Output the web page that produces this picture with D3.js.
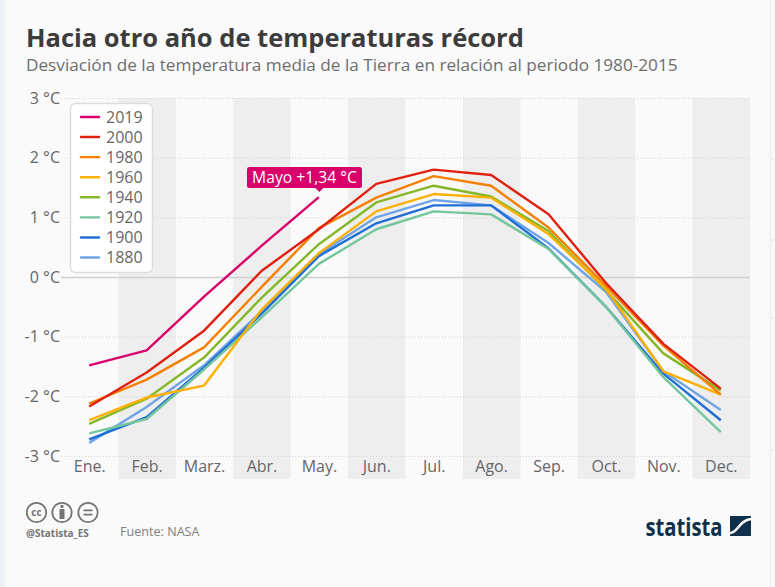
<!DOCTYPE html>
<html>
<head>
<meta charset="utf-8">
<script src="https://cdn.jsdelivr.net/npm/d3@7"></script>
<style>
html, body { margin: 0; padding: 0; background: #fafafa; overflow: hidden; }
text { font-family: "Open Sans", sans-serif; }
</style>
</head>
<body>
<script>
var width = 775, height = 587;

var months = ["Ene.", "Feb.", "Marz.", "Abr.", "May.", "Jun.", "Jul.", "Ago.", "Sep.", "Oct.", "Nov.", "Dec."];
var yTicks = [-3, -2, -1, 0, 1, 2, 3];

var years = ["2019", "2000", "1980", "1960", "1940", "1920", "1900", "1880"];
var colors = ["#d9006c", "#e02010", "#f58000", "#fdb000", "#84b829", "#74c69d", "#1f6fd6", "#6fa4e6"];

var v2019 = [-1.48, -1.23, -0.33, 0.52, 1.34];
var v2000 = [-2.17, -1.6, -0.9, 0.1, 0.8, 1.56, 1.8, 1.71, 1.05, -0.1, -1.12, -1.87];
var v1980 = [-2.12, -1.72, -1.18, -0.17, 0.82, 1.33, 1.69, 1.53, 0.83, -0.15, -1.15, -1.97];
var v1960 = [-2.4, -2.02, -1.82, -0.55, 0.4, 1.1, 1.39, 1.33, 0.72, -0.2, -1.58, -1.97];
var v1940 = [-2.46, -2.04, -1.35, -0.35, 0.55, 1.25, 1.53, 1.35, 0.77, -0.22, -1.28, -1.9];
var v1920 = [-2.62, -2.38, -1.55, -0.68, 0.22, 0.8, 1.1, 1.05, 0.47, -0.5, -1.68, -2.6];
var v1900 = [-2.72, -2.35, -1.52, -0.62, 0.35, 0.9, 1.2, 1.2, 0.48, -0.5, -1.62, -2.4];
var v1880 = [-2.78, -2.18, -1.48, -0.58, 0.38, 1.0, 1.29, 1.2, 0.57, -0.25, -1.58, -2.23];
var seriesValues = [v2019, v2000, v1980, v1960, v1940, v1920, v1900, v1880];

var svg = d3.select("body").append("svg")
    .attr("width", width)
    .attr("height", height);

// page edges, the picture is a screenshot with a pale strip left and a rule right
svg.append("rect").attr("width", width).attr("height", height).attr("fill", "#fafafa");
svg.append("rect").attr("width", 5).attr("height", height).attr("fill", "#eef2f7");
svg.append("line").attr("x1", 770.5).attr("x2", 770.5).attr("y1", 0).attr("y2", height)
    .attr("stroke", "#eeeeee").attr("stroke-width", 1.5);
[159, 240, 318, 450].forEach(function(ty) {
    svg.append("line").attr("x1", 771).attr("x2", 775).attr("y1", ty).attr("y2", ty)
        .attr("stroke", "#e6e6e6");
});

svg.append("text").attr("x", 26).attr("y", 47)
    .attr("font-size", 25.5).attr("font-weight", 700).attr("fill", "#3c3c3c")
    .text("Hacia otro año de temperaturas récord");
svg.append("text").attr("x", 26).attr("y", 71)
    .attr("font-size", 17.2).attr("fill", "#6e6e6e")
    .text("Desviación de la temperatura media de la Tierra en relación al periodo 1980-2015");

var x = d3.scaleBand().domain(months).range([61, 750]);
var y = d3.scaleLinear().domain([-3, 3]).range([456, 98]);

// grey bands on every second month
svg.selectAll("rect.band")
    .data(months.filter(function(d, i) { return i % 2 == 1; }))
    .enter().append("rect")
    .attr("class", "band")
    .attr("x", function(d) { return x(d); })
    .attr("y", 98)
    .attr("width", x.bandwidth())
    .attr("height", 381)
    .attr("fill", "#eeeeee");

var yAxis = d3.axisLeft(y)
    .tickValues(yTicks)
    .tickSize(-(750 - 61))
    .tickPadding(1)
    .tickFormat(function(d) { return d + " °C"; });

var yG = svg.append("g").attr("transform", "translate(61,0)").call(yAxis);
yG.select(".domain").remove();
yG.selectAll(".tick line")
    .attr("stroke", function(d) { return d == 0 ? "#cfcfcf" : "#d4d4d4"; })
    .attr("stroke-width", function(d) { return d == 0 ? 1.3 : 1; })
    .attr("stroke-dasharray", function(d) { return d == 0 ? null : "1,2"; });
yG.selectAll(".tick text")
    .attr("font-size", 16).attr("fill", "#666666")
    .style("font-family", '"Open Sans", sans-serif');

var xAxis = d3.axisBottom(x).tickSize(0).tickPadding(5);
var xG = svg.append("g").attr("transform", "translate(0,456)").call(xAxis);
xG.select(".domain").remove();
xG.selectAll(".tick text")
    .attr("font-size", 16).attr("fill", "#666666")
    .style("font-family", '"Open Sans", sans-serif');

var line = d3.line()
    .x(function(d, i) { return x(months[i]) + x.bandwidth() / 2 - 0.5; })
    .y(function(d) { return y(d); });

// oldest first so 2019 and 2000 end up on top
d3.range(years.length - 1, -1, -1).forEach(function(i) {
    svg.append("path")
        .datum(seriesValues[i])
        .attr("fill", "none")
        .attr("stroke", colors[i])
        .attr("stroke-width", 2.4)
        .attr("stroke-linejoin", "round")
        .attr("d", line);
});

// legend box
var legend = svg.append("g");
legend.append("rect")
    .attr("x", 70.5).attr("y", 103.5)
    .attr("width", 82).attr("height", 169).attr("rx", 5)
    .attr("fill", "#ffffff").attr("stroke", "#dddddd").attr("stroke-width", 1.5);
var legendY = d3.scalePoint().domain(years).range([117, 257.5]);
years.forEach(function(yr, i) {
    legend.append("line")
        .attr("x1", 81).attr("x2", 99)
        .attr("y1", legendY(yr)).attr("y2", legendY(yr))
        .attr("stroke", colors[i]).attr("stroke-width", 2.4).attr("stroke-linecap", "round");
    legend.append("text")
        .attr("x", 106).attr("y", legendY(yr) + 5.5)
        .attr("font-size", 16).attr("fill", "#666666")
        .text(yr);
});

// callout for May 2019
var calloutX = x("May.") + x.bandwidth() / 2;
var callout = svg.append("g");
callout.append("rect")
    .attr("x", 247).attr("y", 167)
    .attr("width", 115).attr("height", 21).attr("rx", 2.5)
    .attr("fill", "#d9006c");
callout.append("path")
    .attr("d", "M" + (calloutX - 4) + ",188L" + calloutX + ",192L" + (calloutX + 4) + ",188Z")
    .attr("fill", "#d9006c");
callout.append("text")
    .attr("x", 304.5).attr("y", 182.5)
    .attr("text-anchor", "middle")
    .attr("font-size", 15.7).attr("fill", "#ffffff")
    .text("Mayo +1,34 °C");

// cc badges
var badges = svg.append("g").attr("fill", "none").attr("stroke", "#757575").attr("stroke-width", 1.8);
[36.5, 62, 88].forEach(function(cx) {
    badges.append("circle").attr("cx", cx).attr("cy", 512.5).attr("r", 9.7);
});
svg.append("text").attr("x", 36.5).attr("y", 516)
    .attr("text-anchor", "middle").attr("font-size", 10).attr("font-weight", 700).attr("fill", "#757575")
    .text("cc");
svg.append("circle").attr("cx", 62).attr("cy", 506.5).attr("r", 1.7).attr("fill", "#757575");
svg.append("rect").attr("x", 59.5).attr("y", 509).attr("width", 5).attr("height", 10).attr("fill", "#757575");
svg.append("rect").attr("x", 83.5).attr("y", 509.5).attr("width", 9).attr("height", 1.8).attr("fill", "#757575");
svg.append("rect").attr("x", 83.5).attr("y", 513.7).attr("width", 9).attr("height", 1.8).attr("fill", "#757575");

svg.append("text").attr("x", 26).attr("y", 537)
    .attr("font-size", 10).attr("font-weight", 700).attr("fill", "#757575")
    .text("@Statista_ES");
svg.append("text").attr("x", 120).attr("y", 536)
    .attr("font-size", 12.6).attr("fill", "#808080")
    .text("Fuente: NASA");

// statista logo
svg.append("text").attr("x", 645.5).attr("y", 536)
    .attr("font-size", 25).attr("font-weight", 700).attr("fill", "#0f2f4a")
    .attr("textLength", 77).attr("lengthAdjust", "spacingAndGlyphs")
    .text("statista");
svg.append("rect").attr("x", 730).attr("y", 516).attr("width", 21).attr("height", 20).attr("fill", "#0f2f4a");
svg.append("path")
    .attr("d", "M730,533C738,533 739,520 751,519")
    .attr("fill", "none").attr("stroke", "#fafafa").attr("stroke-width", 2.6);
</script>
</body>
</html>
